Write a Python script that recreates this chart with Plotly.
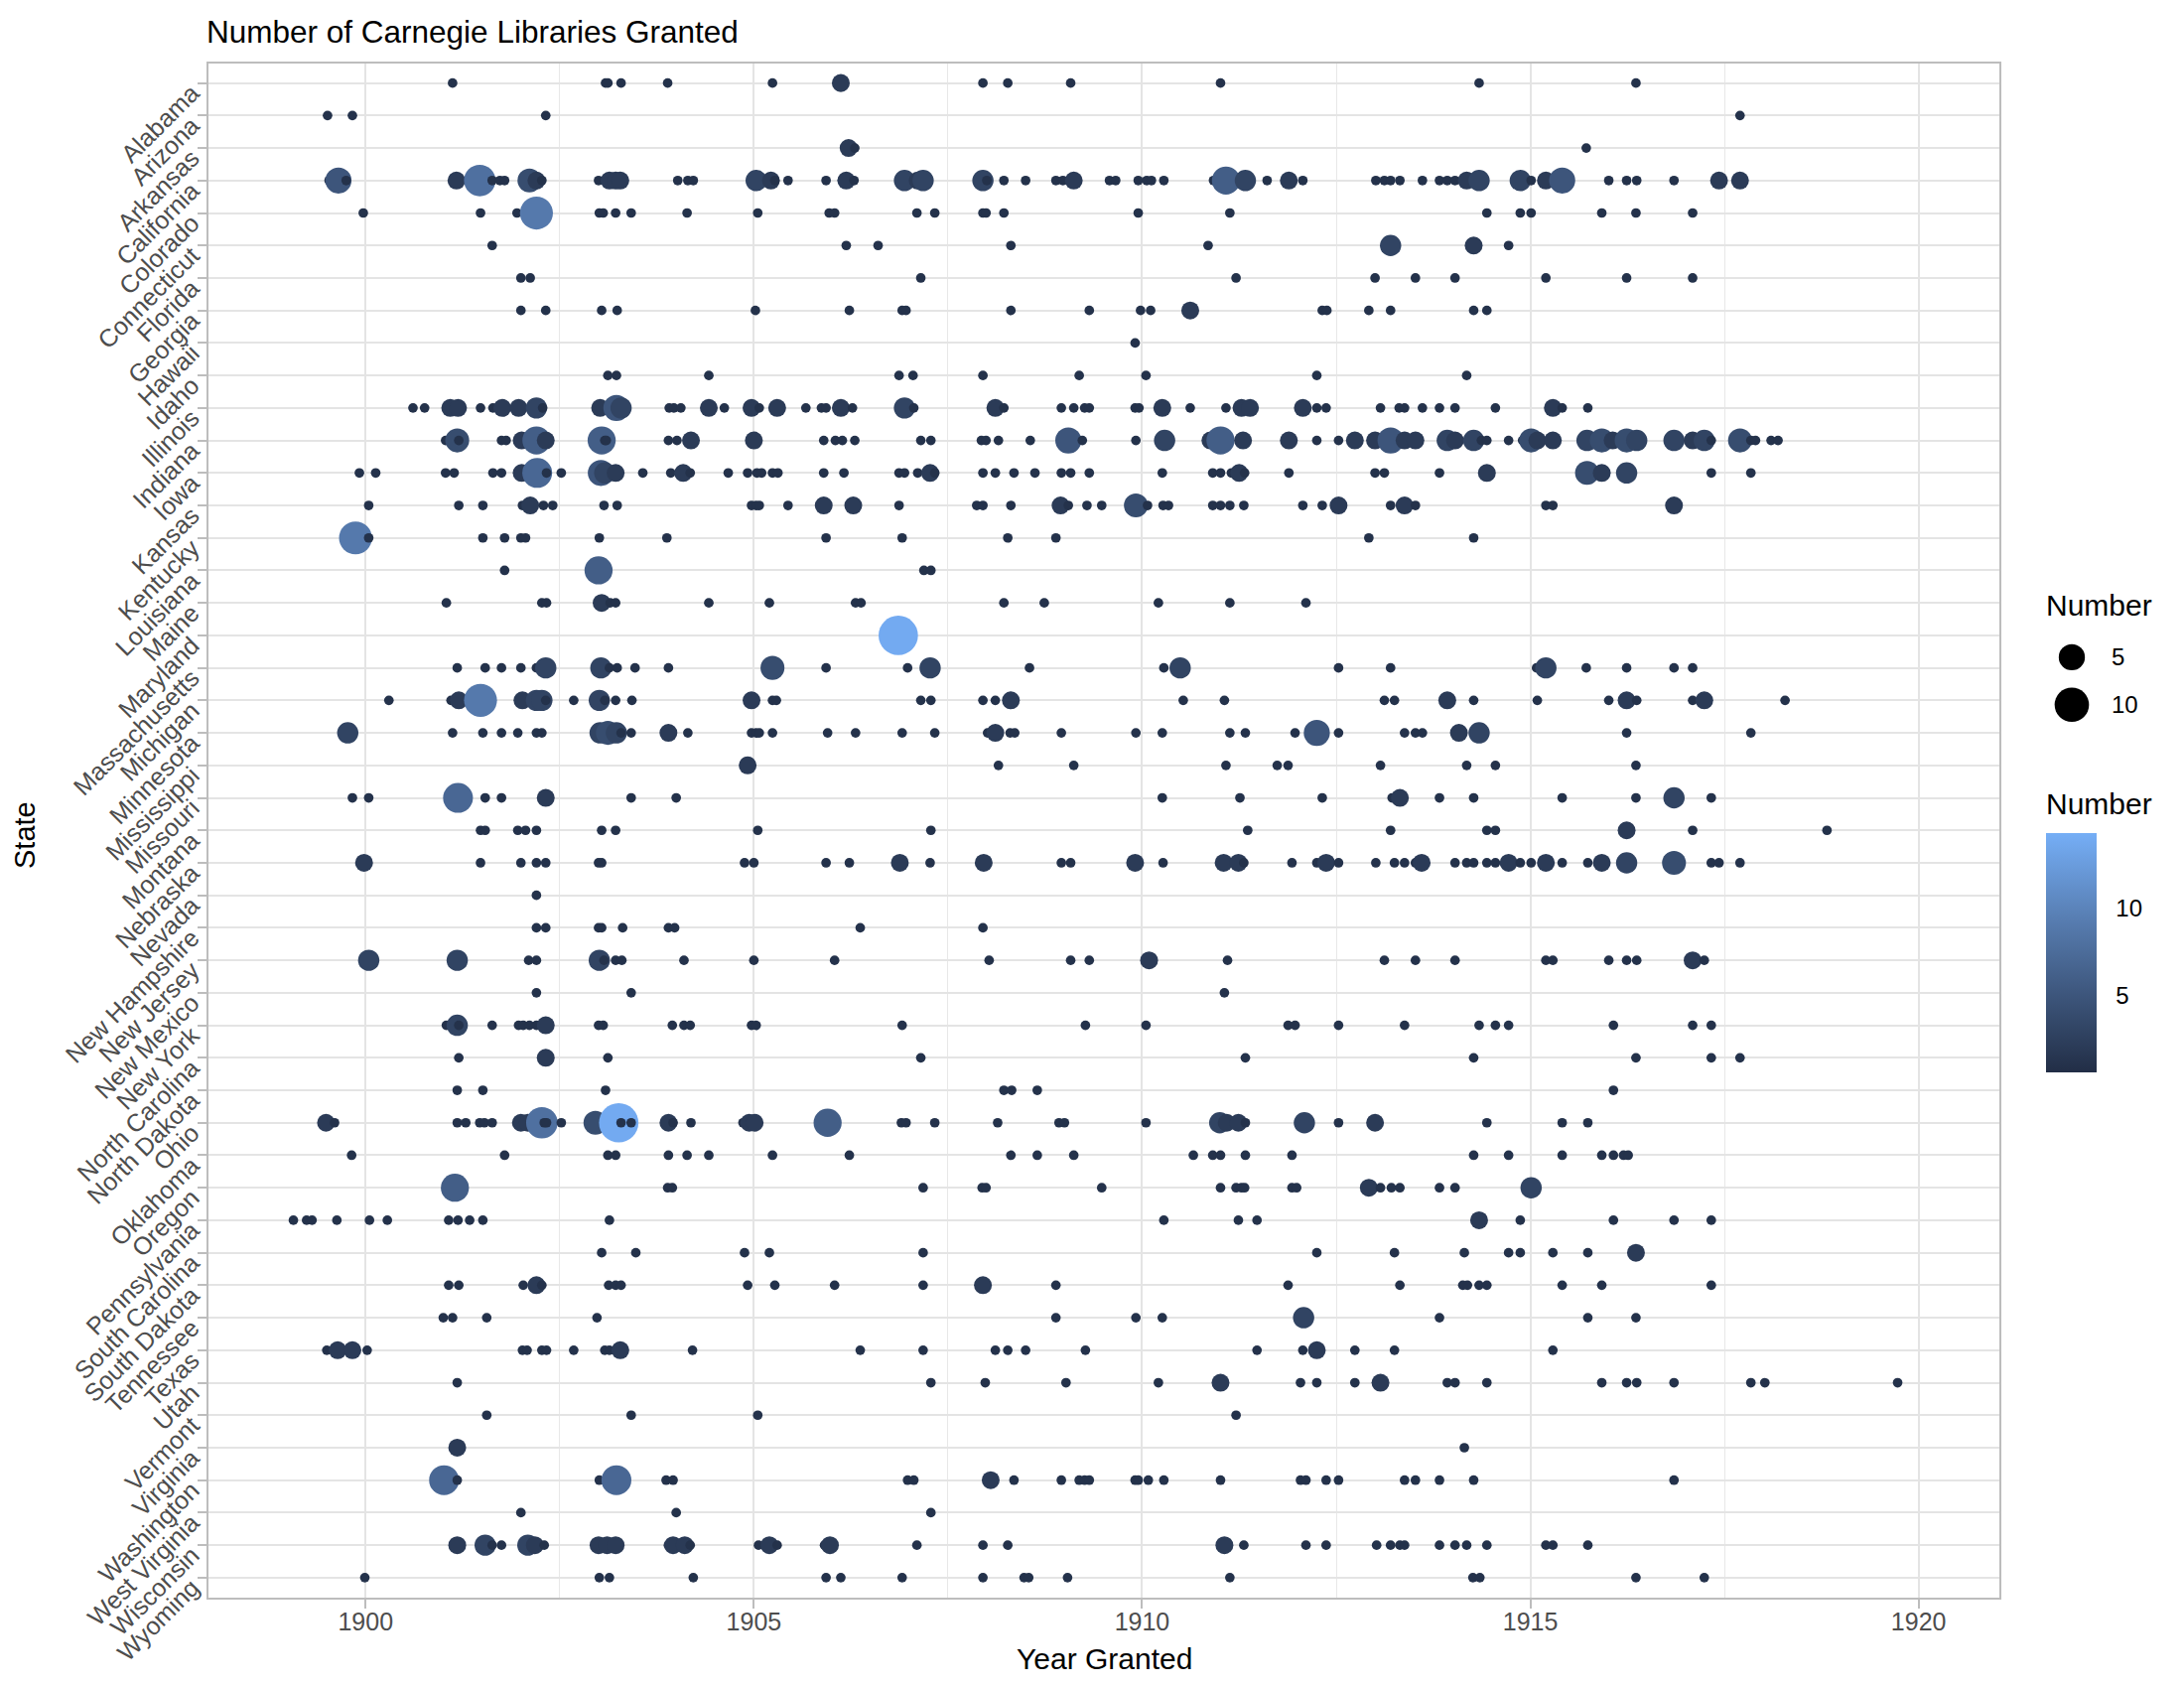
import numpy as np
import plotly.graph_objects as go

states = ["Alabama", "Arizona", "Arkansas", "California", "Colorado", "Connecticut", "Florida", "Georgia",
          "Hawaii", "Idaho", "Illinois", "Indiana", "Iowa", "Kansas", "Kentucky", "Louisiana", "Maine",
          "Maryland", "Massachusetts", "Michigan", "Minnesota", "Mississippi", "Missouri", "Montana",
          "Nebraska", "Nevada", "New Hampshire", "New Jersey", "New Mexico", "New York", "North Carolina",
          "North Dakota", "Ohio", "Oklahoma", "Oregon", "Pennsylvania", "South Carolina", "South Dakota",
          "Tennessee", "Texas", "Utah", "Vermont", "Virginia", "Washington", "West Virginia", "Wisconsin",
          "Wyoming"]

# year granted, and the number of libraries where it is more than one
alabama = [1901.12, 1903.09, 1903.12, 1903.29, 1903.89, 1905.24, 1906.12, 1907.95, 1908.27, 1909.08, 1911.01, 1914.34, 1916.36]
alabama_n = {1906.12: 2}
arizona = [1899.51, 1899.83, 1902.32, 1917.70]
arizona_n = {}
arkansas = [1906.22, 1906.30, 1915.72]
arkansas_n = {1906.22: 2}
california = [1899.53, 1899.65, 1899.75, 1901.17, 1901.47, 1901.63, 1901.73, 1901.79, 1902.11, 1902.20, 1902.27,
              1903.00, 1903.14, 1903.22, 1903.28, 1904.02, 1904.15, 1904.22, 1905.03, 1905.22, 1905.27, 1905.44,
              1905.93, 1906.14, 1906.19, 1906.29, 1906.94, 1907.11, 1907.18, 1907.95, 1908.00, 1908.22, 1908.50,
              1908.89, 1908.98, 1909.12, 1909.58, 1909.66, 1909.95, 1910.06, 1910.12, 1910.28, 1910.92, 1911.08,
              1911.33, 1911.61, 1911.89, 1912.07, 1913.01, 1913.12, 1913.20, 1913.32, 1913.61, 1913.83, 1913.93,
              1914.03, 1914.18, 1914.34, 1914.87, 1915.01, 1915.20, 1915.41, 1916.01, 1916.24, 1916.37, 1916.85,
              1917.43, 1917.70]
california_n = {1899.65: 5, 1901.17: 2, 1901.47: 8, 1902.11: 4, 1902.20: 2, 1903.14: 2, 1903.22: 2, 1903.28: 2,
                1905.03: 3, 1905.22: 2, 1906.19: 2, 1906.94: 3, 1907.11: 2, 1907.18: 3, 1907.95: 3, 1909.12: 2,
                1911.08: 6, 1911.33: 3, 1911.89: 2, 1914.18: 2, 1914.34: 3, 1914.87: 3, 1915.20: 2, 1915.41: 5,
                1917.43: 2, 1917.70: 2}
colorado = [1899.97, 1901.48, 1901.95, 1902.20, 1903.01, 1903.06, 1903.22, 1903.42, 1904.14, 1905.05, 1905.97,
            1906.04, 1907.10, 1907.33, 1907.95, 1907.99, 1908.22, 1909.95, 1911.13, 1914.44, 1914.87, 1915.01,
            1915.92, 1916.36, 1917.09]
colorado_n = {1902.20: 9}
connecticut = [1901.63, 1906.19, 1906.60, 1908.31, 1910.85, 1913.20, 1914.27, 1914.72]
connecticut_n = {1913.20: 3, 1914.27: 2}
florida = [1902.00, 1902.12, 1907.15, 1911.21, 1913.00, 1913.52, 1914.03, 1915.20, 1916.24, 1917.09]
florida_n = {}
georgia = [1902.00, 1902.32, 1903.04, 1903.24, 1905.02, 1906.23, 1906.91, 1906.96, 1908.31, 1909.32, 1909.98,
           1910.11, 1910.62, 1912.32, 1912.38, 1912.92, 1913.20, 1914.27, 1914.44]
georgia_n = {1910.62: 2}
hawaii = [1909.91]
hawaii_n = {}
idaho = [1903.12, 1903.23, 1904.42, 1906.87, 1907.05, 1907.95, 1909.19, 1910.05, 1912.25, 1914.18]
idaho_n = {}
illinois = [1900.61, 1900.76, 1901.09, 1901.19, 1901.48, 1901.64, 1901.76, 1901.97, 1902.20, 1902.28, 1903.02,
            1903.23, 1903.29, 1903.91, 1903.97, 1904.06, 1904.42, 1904.62, 1904.97, 1905.07, 1905.30, 1905.67,
            1905.87, 1905.93, 1906.12, 1906.27, 1906.94, 1907.06, 1908.11, 1908.22, 1908.96, 1909.12, 1909.26,
            1909.32, 1909.91, 1909.96, 1910.26, 1910.62, 1911.08, 1911.28, 1911.39, 1912.07, 1912.25, 1912.37,
            1913.07, 1913.31, 1913.38, 1913.61, 1913.83, 1914.03, 1914.55, 1915.29, 1915.41, 1915.74]
illinois_n = {1901.09: 2, 1901.19: 2, 1901.76: 2, 1901.97: 2, 1902.20: 3, 1903.02: 2, 1903.23: 5, 1903.29: 3,
              1904.42: 2, 1904.97: 2, 1905.30: 2, 1906.12: 2, 1906.94: 3, 1908.11: 2, 1910.26: 2, 1911.28: 2,
              1911.39: 2, 1912.07: 2, 1915.29: 2}
indiana = [1901.03, 1901.18, 1901.20, 1901.75, 1901.81, 1902.01, 1902.20, 1902.32, 1903.04, 1903.08, 1903.10,
           1903.90, 1904.01, 1904.19, 1905.00, 1905.90, 1906.05, 1906.14, 1906.30, 1907.15, 1907.28, 1907.93,
           1907.99, 1908.15, 1908.56, 1909.05, 1909.23, 1909.92, 1910.29, 1910.88, 1911.01, 1911.30, 1911.89,
           1912.25, 1912.53, 1912.74, 1913.00, 1913.20, 1913.38, 1913.52, 1913.89, 1913.93, 1914.03, 1914.27,
           1914.37, 1914.44, 1914.72, 1914.90, 1915.01, 1915.09, 1915.29, 1915.73, 1915.92, 1916.06, 1916.24,
           1916.37, 1916.85, 1917.09, 1917.24, 1917.33, 1917.70, 1917.84, 1917.90, 1918.10, 1918.19]
indiana_n = {1901.18: 4, 1902.01: 2, 1902.20: 6, 1902.32: 2, 1903.04: 6, 1904.19: 2, 1905.00: 2, 1909.05: 5,
             1910.29: 3, 1910.88: 2, 1911.01: 6, 1911.30: 2, 1911.89: 2, 1912.74: 2, 1913.00: 2, 1913.20: 5,
             1913.38: 2, 1913.52: 2, 1913.93: 3, 1914.03: 2, 1914.27: 3, 1915.01: 4, 1915.09: 2, 1915.29: 2,
             1915.73: 3, 1915.92: 4, 1916.06: 2, 1916.24: 4, 1916.37: 3, 1916.85: 3, 1917.09: 2, 1917.24: 3,
             1917.70: 4}
iowa = [1899.92, 1900.13, 1901.03, 1901.14, 1901.64, 1901.75, 1902.01, 1902.21, 1902.33, 1902.52, 1903.03, 1903.08,
        1903.22, 1903.57, 1903.93, 1904.09, 1904.18, 1904.67, 1904.92, 1905.04, 1905.10, 1905.24, 1905.31, 1905.90,
        1906.16, 1906.87, 1906.94, 1907.11, 1907.27, 1907.33, 1907.95, 1908.11, 1908.35, 1908.62, 1908.96, 1909.08,
        1909.32, 1910.26, 1910.91, 1911.01, 1911.15, 1911.25, 1911.32, 1911.89, 1913.00, 1913.12, 1913.83, 1914.44,
        1915.73, 1915.92, 1916.24, 1917.33, 1917.84]
iowa_n = {1902.01: 2, 1902.21: 7, 1903.03: 5, 1903.08: 3, 1903.22: 2, 1904.09: 2, 1907.27: 2, 1911.25: 2,
          1914.44: 2, 1915.73: 4, 1915.92: 2, 1916.24: 3}
kansas = [1900.04, 1901.20, 1901.51, 1902.02, 1902.12, 1902.29, 1902.41, 1903.07, 1903.24, 1904.97, 1905.03, 1905.07,
          1905.44, 1905.90, 1906.28, 1906.87, 1907.87, 1907.95, 1908.31, 1908.95, 1909.05, 1909.29, 1909.48, 1909.92,
          1910.07, 1910.27, 1910.34, 1910.91, 1911.01, 1911.13, 1911.31, 1912.07, 1912.32, 1912.53, 1913.20, 1913.38,
          1913.52, 1915.20, 1915.29, 1916.85]
kansas_n = {1902.12: 2, 1905.90: 2, 1906.28: 2, 1908.95: 2, 1909.92: 4, 1912.53: 2, 1913.38: 2, 1916.85: 2}
kentucky = [1899.87, 1900.04, 1901.51, 1901.79, 1902.00, 1902.06, 1903.01, 1903.88, 1905.93, 1906.91, 1908.27, 1908.89,
            1912.92, 1914.27]
kentucky_n = {1899.87: 9}
louisiana = [1901.79, 1903.00, 1907.19, 1907.28]
louisiana_n = {1903.00: 6}
maine = [1901.04, 1902.27, 1902.33, 1903.04, 1903.15, 1903.22, 1904.42, 1905.20, 1906.31, 1906.38, 1908.22, 1908.74,
         1910.21, 1911.13, 1912.11]
maine_n = {1903.04: 2}
maryland = [1906.86]
maryland_n = {1906.86: 14}
massachusetts = [1901.18, 1901.54, 1901.75, 1902.00, 1902.20, 1902.32, 1903.03, 1903.14, 1903.24, 1903.47, 1903.90,
                 1905.16, 1905.24, 1905.93, 1906.98, 1907.27, 1908.55, 1910.28, 1910.49, 1912.53, 1913.20, 1915.08,
                 1915.20, 1915.72, 1916.24, 1916.85, 1917.09]
massachusetts_n = {1902.32: 3, 1903.03: 3, 1905.24: 4, 1907.27: 3, 1910.49: 3, 1915.20: 3}
michigan = [1900.30, 1901.10, 1901.20, 1901.48, 1902.02, 1902.20, 1902.27, 1902.32, 1902.68, 1903.01, 1903.08, 1903.22,
            1903.43, 1904.97, 1905.24, 1905.29, 1907.15, 1907.28, 1907.95, 1908.11, 1908.31, 1910.53, 1911.06, 1913.12,
            1913.25, 1913.93, 1914.27, 1915.09, 1916.01, 1916.24, 1916.37, 1917.09, 1917.24, 1918.28]
michigan_n = {1901.20: 2, 1901.48: 9, 1902.02: 2, 1902.20: 3, 1902.27: 3, 1903.01: 3, 1904.97: 2, 1908.31: 2,
              1913.93: 2, 1916.24: 2, 1917.24: 2}
minnesota = [1899.77, 1901.12, 1901.51, 1901.75, 1901.96, 1902.20, 1902.27, 1903.02, 1903.12, 1903.23, 1903.29, 1903.42,
             1903.90, 1904.15, 1904.97, 1905.03, 1905.07, 1905.24, 1905.95, 1906.31, 1906.91, 1907.33, 1908.01, 1908.11,
             1908.30, 1908.36, 1908.96, 1909.92, 1910.26, 1911.13, 1911.33, 1911.97, 1912.25, 1912.53, 1913.38, 1913.52,
             1913.61, 1914.08, 1914.34, 1916.24, 1917.84]
minnesota_n = {1899.77: 3, 1903.02: 3, 1903.12: 4, 1903.23: 3, 1903.90: 2, 1908.11: 2, 1912.25: 5, 1914.08: 2,
               1914.34: 3}
mississippi = [1904.92, 1908.15, 1909.12, 1911.08, 1911.74, 1911.88, 1913.07, 1914.18, 1914.55, 1916.36]
mississippi_n = {1904.92: 2}
missouri = [1899.83, 1900.04, 1901.19, 1901.54, 1901.75, 1902.32, 1903.42, 1904.00, 1910.26, 1911.26, 1912.32, 1913.22,
            1913.32, 1913.83, 1914.27, 1915.41, 1916.36, 1916.85, 1917.33]
missouri_n = {1901.19: 7, 1902.32: 2, 1913.32: 2, 1916.85: 3}
montana = [1901.48, 1901.54, 1901.96, 1902.06, 1902.20, 1903.04, 1903.22, 1905.05, 1907.28, 1911.36, 1913.20, 1914.44,
           1914.55, 1916.24, 1917.09, 1918.82]
montana_n = {1916.24: 2}
nebraska = [1899.98, 1901.48, 1902.00, 1902.20, 1902.32, 1903.00, 1903.04, 1904.88, 1905.00, 1905.93, 1906.23, 1906.88,
            1907.27, 1907.96, 1908.96, 1909.08, 1909.91, 1910.27, 1911.05, 1911.24, 1911.31, 1911.93, 1912.25, 1912.37,
            1912.53, 1913.01, 1913.25, 1913.38, 1913.52, 1913.60, 1914.03, 1914.18, 1914.27, 1914.44, 1914.55, 1914.72,
            1914.87, 1915.01, 1915.20, 1915.41, 1915.74, 1915.92, 1916.24, 1916.85, 1917.33, 1917.43, 1917.70]
nebraska_n = {1899.98: 2, 1906.88: 2, 1907.96: 2, 1909.91: 2, 1911.05: 2, 1911.24: 2, 1912.37: 2, 1913.60: 2,
              1914.72: 2, 1915.20: 2, 1915.92: 2, 1916.24: 3, 1916.85: 4}
nevada = [1902.20]
nevada_n = {}
new_hampshire = [1902.20, 1902.32, 1903.00, 1903.04, 1903.31, 1903.90, 1903.98, 1906.37, 1907.95]
new_hampshire_n = {}
new_jersey = [1900.04, 1901.18, 1902.10, 1902.20, 1903.01, 1903.07, 1903.22, 1903.30, 1904.10, 1905.00, 1906.04, 1908.03,
              1909.08, 1909.32, 1910.09, 1911.10, 1913.12, 1913.52, 1914.03, 1915.20, 1915.29, 1916.01, 1916.24, 1916.37,
              1917.09, 1917.24]
new_jersey_n = {1900.04: 3, 1901.18: 3, 1903.01: 3, 1910.09: 2, 1917.09: 2}
new_mexico = [1902.20, 1903.42, 1911.06]
new_mexico_n = {}
new_york = [1901.04, 1901.18, 1901.20, 1901.63, 1901.97, 1902.03, 1902.11, 1902.20, 1902.32, 1903.00, 1903.06, 1903.95,
            1904.10, 1904.18, 1904.97, 1905.03, 1906.91, 1909.27, 1910.05, 1911.88, 1911.97, 1912.53, 1913.38, 1914.34,
            1914.55, 1914.72, 1916.07, 1917.09, 1917.33]
new_york_n = {1901.18: 3, 1902.32: 2}
north_carolina = [1901.20, 1902.32, 1903.12, 1907.15, 1911.33, 1914.27, 1916.36, 1917.33, 1917.70]
north_carolina_n = {1902.32: 2}
north_dakota = [1901.18, 1901.51, 1903.09, 1908.22, 1908.32, 1908.65, 1916.07]
north_dakota_n = {}
ohio = [1899.49, 1899.60, 1901.18, 1901.29, 1901.47, 1901.53, 1901.63, 1902.00, 1902.09, 1902.27, 1902.30, 1902.33,
        1902.52, 1902.96, 1903.26, 1903.29, 1903.42, 1903.90, 1903.96, 1904.19, 1904.86, 1904.94, 1905.01, 1905.95,
        1906.90, 1906.96, 1907.33, 1908.14, 1908.93, 1909.00, 1910.05, 1911.00, 1911.09, 1911.24, 1911.33, 1912.09,
        1912.53, 1913.00, 1914.44, 1915.41, 1915.74]
ohio_n = {1899.49: 2, 1902.00: 2, 1902.09: 2, 1902.27: 8, 1902.96: 4, 1903.26: 14, 1903.90: 2, 1904.94: 2, 1905.01: 2,
          1905.95: 6, 1911.00: 3, 1911.09: 2, 1911.24: 2, 1912.09: 3, 1913.00: 2}
oklahoma = [1899.82, 1901.79, 1903.12, 1903.22, 1903.90, 1904.14, 1904.42, 1905.24, 1906.23, 1908.31, 1908.65, 1909.12,
            1910.66, 1910.91, 1911.01, 1911.33, 1911.93, 1914.27, 1914.72, 1915.41, 1915.92, 1916.07, 1916.20, 1916.26]
oklahoma_n = {}
oregon = [1901.15, 1903.89, 1903.95, 1907.18, 1907.94, 1907.99, 1909.48, 1911.01, 1911.21, 1911.28, 1911.32, 1911.93,
          1911.99, 1912.92, 1913.07, 1913.21, 1913.32, 1913.83, 1914.03, 1915.01]
oregon_n = {1901.15: 6, 1912.92: 2, 1915.01: 3}
pennsylvania = [1899.07, 1899.24, 1899.31, 1899.63, 1900.05, 1900.28, 1901.07, 1901.19, 1901.34, 1901.51, 1903.14,
                1910.28, 1911.24, 1911.48, 1914.34, 1914.87, 1916.07, 1916.85, 1917.33]
pennsylvania_n = {1914.34: 2}
south_carolina = [1903.04, 1903.48, 1904.88, 1905.20, 1907.18, 1912.25, 1913.25, 1914.15, 1914.72, 1914.87, 1915.29,
                  1915.74, 1916.36]
south_carolina_n = {1916.36: 2}
south_dakota = [1901.07, 1901.20, 1902.03, 1902.20, 1902.27, 1903.13, 1903.22, 1903.29, 1904.92, 1905.27, 1906.04,
                1907.18, 1907.95, 1908.89, 1911.88, 1913.32, 1914.13, 1914.19, 1914.34, 1914.44, 1915.41, 1915.92,
                1917.33]
south_dakota_n = {1902.20: 2, 1907.95: 2}
tennessee = [1901.00, 1901.12, 1901.56, 1902.98, 1908.89, 1909.92, 1910.26, 1912.08, 1913.83, 1915.74, 1916.36]
tennessee_n = {1912.08: 3}
texas = [1899.50, 1899.64, 1899.83, 1900.02, 1902.02, 1902.08, 1902.27, 1902.33, 1902.68, 1903.08, 1903.14, 1903.28,
         1904.21, 1906.37, 1907.18, 1908.11, 1908.27, 1908.50, 1909.27, 1911.48, 1912.07, 1912.25, 1912.74, 1913.25,
         1915.29]
texas_n = {1899.64: 2, 1899.83: 2, 1903.28: 2, 1912.25: 2}
utah = [1901.18, 1907.28, 1907.98, 1909.02, 1910.21, 1911.01, 1912.04, 1912.25, 1912.74, 1913.02, 1913.07, 1913.93,
        1914.03, 1914.44, 1915.92, 1916.24, 1916.37, 1916.85, 1917.84, 1918.02, 1919.73]
utah_n = {1911.01: 2, 1913.07: 2}
vermont = [1901.56, 1903.42, 1905.05, 1911.21]
vermont_n = {}
virginia = [1901.18, 1914.15]
virginia_n = {1901.18: 2}
washington = [1901.01, 1901.18, 1903.01, 1903.23, 1903.87, 1903.96, 1906.98, 1907.06, 1908.05, 1908.35, 1908.96, 1909.19,
              1909.26, 1909.32, 1909.91, 1909.95, 1910.08, 1910.28, 1911.01, 1912.04, 1912.11, 1912.37, 1912.53, 1913.38,
              1913.52, 1913.83, 1914.27, 1916.85]
washington_n = {1901.01: 7, 1903.23: 7, 1908.05: 2}
west_virginia = [1902.00, 1904.00, 1907.28]
west_virginia_n = {}
wisconsin = [1901.18, 1901.54, 1901.63, 1901.75, 1902.09, 1902.18, 1902.30, 1903.00, 1903.11, 1903.22, 1903.90, 1903.96,
             1904.11, 1904.18, 1905.06, 1905.20, 1905.30, 1905.91, 1905.98, 1907.10, 1907.95, 1908.27, 1911.06, 1911.31,
             1912.11, 1912.37, 1913.02, 1913.20, 1913.32, 1913.38, 1913.83, 1914.03, 1914.18, 1914.44, 1915.20, 1915.29,
             1915.74]
wisconsin_n = {1901.18: 2, 1901.54: 3, 1902.09: 3, 1902.18: 2, 1903.00: 2, 1903.11: 2, 1903.22: 2, 1903.96: 2,
               1904.11: 2, 1905.20: 2, 1905.98: 2, 1911.06: 2}
wyoming = [1899.99, 1903.01, 1903.14, 1904.22, 1905.93, 1906.12, 1906.91, 1907.95, 1908.48, 1908.54, 1909.04, 1911.13,
           1914.26, 1914.35, 1916.36, 1917.24]
wyoming_n = {}

years_by_state = [alabama, arizona, arkansas, california, colorado, connecticut, florida, georgia, hawaii, idaho,
                  illinois, indiana, iowa, kansas, kentucky, louisiana, maine, maryland, massachusetts, michigan,
                  minnesota, mississippi, missouri, montana, nebraska, nevada, new_hampshire, new_jersey, new_mexico,
                  new_york, north_carolina, north_dakota, ohio, oklahoma, oregon, pennsylvania, south_carolina,
                  south_dakota, tennessee, texas, utah, vermont, virginia, washington, west_virginia, wisconsin,
                  wyoming]
numbers_by_state = [alabama_n, arizona_n, arkansas_n, california_n, colorado_n, connecticut_n, florida_n, georgia_n,
                    hawaii_n, idaho_n, illinois_n, indiana_n, iowa_n, kansas_n, kentucky_n, louisiana_n, maine_n,
                    maryland_n, massachusetts_n, michigan_n, minnesota_n, mississippi_n, missouri_n, montana_n,
                    nebraska_n, nevada_n, new_hampshire_n, new_jersey_n, new_mexico_n, new_york_n, north_carolina_n,
                    north_dakota_n, ohio_n, oklahoma_n, oregon_n, pennsylvania_n, south_carolina_n, south_dakota_n,
                    tennessee_n, texas_n, utah_n, vermont_n, virginia_n, washington_n, west_virginia_n, wisconsin_n,
                    wyoming_n]

legend_numbers = [5, 10]

W, H = 2200, 1700
PAGE_OFFSET = 8  # the page body margin moves the whole figure
FONT = "Liberation Sans"
CMIN, CMAX = 0.59, 14.37
TICK_WHITE = "rgba(255,255,255,0.65)"
BAR_LEFT, BAR_RIGHT, BAR_TOP, BAR_BOTTOM = 2061.3, 2112, 839, 1079.6


def marker_size(n):
    # same area scale as the size legend
    return 9.7 + 30 * np.sqrt((np.asarray(n, dtype=float) - 1) / 13)


def px_x(p):
    return (p - PAGE_OFFSET) / W


def px_y(p):
    return 1 - (p - PAGE_OFFSET) / H


rows = []
for state, years, numbers in zip(states, years_by_state, numbers_by_state):
    for year in years:
        rows.append((year, state, numbers.get(year, 1)))
rows.sort(key=lambda r: r[0])
x = [r[0] for r in rows]
y = [r[1] for r in rows]
n = [r[2] for r in rows]

fig = go.Figure()

fig.add_trace(
    go.Scatter(
        x=x,
        y=y,
        mode="markers",
        showlegend=False,
        marker=dict(
            size=marker_size(n),
            opacity=1,
            color=n,
            cmin=CMIN,
            cmax=CMAX,
            colorscale=[[0, "#222E46"], [0.6, "#5478AA"], [1, "#75AEF6"]],
            line=dict(width=0),
            colorbar=dict(
                tickvals=legend_numbers,
                ticks="outside",
                ticklen=15,
                tickcolor="rgba(0,0,0,0)",
                tickfont=dict(size=24, color="black", family=FONT),
                thickness=BAR_RIGHT - BAR_LEFT,
                lenmode="pixels",
                len=BAR_BOTTOM - BAR_TOP,
                x=px_x(BAR_LEFT),
                xanchor="left",
                xpad=0,
                y=px_y(BAR_BOTTOM),
                yanchor="bottom",
                ypad=0,
                outlinewidth=0,
            ),
        ),
    )
)

# size legend on its own small axes
fig.add_trace(
    go.Scatter(
        x=[0.5, 0.5],
        y=[str(v) for v in legend_numbers],
        xaxis="x2",
        yaxis="y2",
        mode="markers",
        showlegend=False,
        marker=dict(size=marker_size(legend_numbers), opacity=1, color="black", line=dict(width=0)),
    )
)

# ticks on both sides of the colour bar
shapes = []
for v in legend_numbers:
    p = BAR_BOTTOM - (v - CMIN) / (CMAX - CMIN) * (BAR_BOTTOM - BAR_TOP)
    for x0, x1 in [(BAR_LEFT, BAR_LEFT + 11), (BAR_RIGHT - 11, BAR_RIGHT)]:
        shapes.append(dict(type="line", xref="paper", yref="paper", x0=px_x(x0), x1=px_x(x1), y0=px_y(p), y1=px_y(p),
                           line=dict(color=TICK_WHITE, width=1.5)))

annotations = [
    dict(text="Year Granted", x=px_x(1112), y=px_y(1670), xref="paper", yref="paper", showarrow=False,
         xanchor="center", yanchor="middle", font=dict(size=30, color="black", family=FONT)),
    dict(text="State", x=px_x(25), y=px_y(841), xref="paper", yref="paper", showarrow=False, textangle=-90,
         xanchor="center", yanchor="middle", font=dict(size=29, color="black", family=FONT)),
    dict(text="Number", x=px_x(2059), y=px_y(609), xref="paper", yref="paper", showarrow=False, xanchor="left",
         yanchor="middle", font=dict(size=30, color="black", family=FONT)),
    dict(text="Number", x=px_x(2059), y=px_y(809), xref="paper", yref="paper", showarrow=False, xanchor="left",
         yanchor="middle", font=dict(size=30, color="black", family=FONT)),
]

fig.update_layout(
    width=W,
    height=H,
    margin=dict(l=0, r=0, t=0, b=0, autoexpand=False),
    paper_bgcolor="white",
    plot_bgcolor="white",
    font=dict(family=FONT),
    title=dict(text="Number of Carnegie Libraries Granted", x=px_x(208), xanchor="left", y=px_y(32), yanchor="middle",
               font=dict(size=31.5, color="black", family=FONT)),
    xaxis=dict(
        domain=[px_x(209.5), px_x(2014)],
        range=[1897.97, 1921.04],
        tick0=1900,
        dtick=5,
        ticks="outside",
        ticklen=9,
        tickwidth=2,
        tickcolor="#BDBDBD",
        tickfont=dict(size=25, color="#4D4D4D", family=FONT),
        ticklabelstandoff=-8,
        showgrid=True,
        gridcolor="#E4E4E4",
        gridwidth=2,
        minor=dict(tick0=1900, dtick=2.5, showgrid=True, gridcolor="#E8E8E8", gridwidth=1, ticks=""),
        showline=True,
        linecolor="#BDBDBD",
        linewidth=2,
        mirror=True,
        zeroline=False,
    ),
    yaxis=dict(
        domain=[px_y(1608.5), px_y(64)],
        type="category",
        categoryorder="array",
        categoryarray=states,
        tickmode="array",
        tickvals=states,
        ticktext=states,
        range=[46.6, -0.6],
        tickangle=-45,
        ticks="outside",
        ticklen=9,
        tickwidth=2,
        tickcolor="#BDBDBD",
        tickfont=dict(size=25, color="#4D4D4D", family=FONT),
        ticklabelshift=-7,
        showgrid=True,
        gridcolor="#E4E4E4",
        gridwidth=2,
        showline=True,
        linecolor="#BDBDBD",
        linewidth=2,
        mirror=True,
        zeroline=False,
    ),
    xaxis2=dict(domain=[px_x(2062), px_x(2112)], range=[0, 1], visible=False, anchor="y2"),
    yaxis2=dict(
        domain=[px_y(733.7), px_y(638)],
        type="category",
        categoryorder="array",
        categoryarray=[str(v) for v in legend_numbers],
        range=[1.5, -0.5],
        anchor="x2",
        side="right",
        showgrid=False,
        showline=False,
        zeroline=False,
        ticks="",
        ticklabelstandoff=14,
        tickfont=dict(size=24, color="black", family=FONT),
    ),
    shapes=shapes,
    annotations=annotations,
)

fig.write_html("out.html")
